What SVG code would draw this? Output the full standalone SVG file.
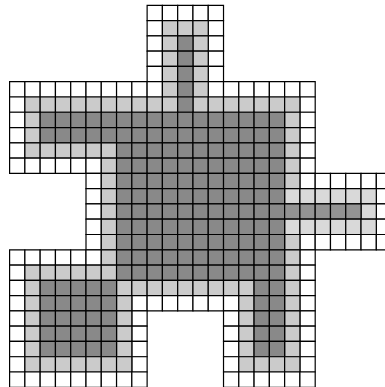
<svg xmlns="http://www.w3.org/2000/svg" width="385" height="387" viewBox="0 0 385 387">
<style>
.bg{fill:#fff}
.g rect{width:1px;height:1px;stroke:#000;stroke-width:1.2;vector-effect:non-scaling-stroke}
.w{fill:#fff}.l{fill:#cbcbcb}.d{fill:#898989}.l2{fill:#d9d9d9}.d2{fill:#939393}
</style>
<rect class="bg" x="0" y="0" width="385" height="387"/>
<g class="g" transform="translate(9.6 5.3) scale(15.28)">
<g id="r0" transform="translate(0 0)"><g class="w"><rect x="9"/><rect x="10"/><rect x="11"/><rect x="12"/><rect x="13"/></g></g>
<g id="r1" transform="translate(0 1)"><g class="w"><rect x="9"/><rect x="13"/></g><g class="l"><rect x="10"/><rect x="11"/><rect x="12"/></g></g>
<g id="r2" transform="translate(0 2)"><g class="w"><rect x="9"/><rect x="13"/></g><g class="l"><rect x="10"/><rect x="12"/></g><g class="d"><rect x="11"/></g></g>
<g id="r3" transform="translate(0 3)"><g class="w"><rect x="9"/><rect x="13"/></g><g class="l"><rect x="10"/><rect x="12"/></g><g class="d"><rect x="11"/></g></g>
<g id="r4" transform="translate(0 4)"><g class="w"><rect x="9"/><rect x="13"/></g><g class="l"><rect x="10"/><rect x="12"/></g><g class="d"><rect x="11"/></g></g>
<g id="r5" transform="translate(0 5)"><g class="w"><rect x="0"/><rect x="1"/><rect x="2"/><rect x="3"/><rect x="4"/><rect x="5"/><rect x="6"/><rect x="7"/><rect x="8"/><rect x="9"/><rect x="13"/><rect x="14"/><rect x="15"/><rect x="16"/><rect x="17"/><rect x="18"/><rect x="19"/></g><g class="l"><rect x="10"/><rect x="12"/></g><g class="d"><rect x="11"/></g></g>
<g id="r6" transform="translate(0 6)"><g class="w"><rect x="0"/><rect x="19"/></g><g class="l"><rect x="1"/><rect x="2"/><rect x="3"/><rect x="4"/><rect x="5"/><rect x="6"/><rect x="7"/><rect x="8"/><rect x="9"/><rect x="10"/><rect x="12"/><rect x="13"/><rect x="14"/><rect x="15"/><rect x="16"/><rect x="17"/><rect x="18"/></g><g class="d"><rect x="11"/></g></g>
<g id="r7" transform="translate(0 7)"><g class="w"><rect x="0"/><rect x="19"/></g><g class="l"><rect x="1"/><rect x="18"/></g><g class="d"><rect x="2"/><rect x="3"/><rect x="4"/><rect x="5"/><rect x="6"/><rect x="7"/><rect x="8"/><rect x="9"/><rect x="10"/><rect x="11"/><rect x="12"/><rect x="13"/><rect x="14"/><rect x="15"/><rect x="16"/><rect x="17"/></g></g>
<g id="r8" transform="translate(0 8)"><g class="w"><rect x="0"/><rect x="19"/></g><g class="l"><rect x="1"/><rect x="18"/></g><g class="d"><rect x="2"/><rect x="3"/><rect x="4"/><rect x="5"/><rect x="6"/><rect x="7"/><rect x="8"/><rect x="9"/><rect x="10"/><rect x="11"/><rect x="12"/><rect x="13"/><rect x="14"/><rect x="15"/><rect x="16"/><rect x="17"/></g></g>
<g id="r9" transform="translate(0 9)"><g class="w"><rect x="0"/><rect x="19"/></g><g class="l"><rect x="1"/><rect x="2"/><rect x="3"/><rect x="4"/><rect x="5"/><rect x="6"/><rect x="18"/></g><g class="d"><rect x="7"/><rect x="8"/><rect x="9"/><rect x="10"/><rect x="11"/><rect x="12"/><rect x="13"/><rect x="14"/><rect x="15"/><rect x="16"/><rect x="17"/></g></g>
<g id="r10" transform="translate(0 10)"><g class="w"><rect x="0"/><rect x="1"/><rect x="2"/><rect x="3"/><rect x="4"/><rect x="5"/><rect x="19"/></g><g class="l"><rect x="6"/><rect x="18"/></g><g class="d"><rect x="7"/><rect x="8"/><rect x="9"/><rect x="10"/><rect x="11"/><rect x="12"/><rect x="13"/><rect x="14"/><rect x="15"/><rect x="16"/><rect x="17"/></g></g>
<g id="r11" transform="translate(0 11)"><g class="w"><rect x="5"/><rect x="19"/><rect x="20"/><rect x="21"/><rect x="22"/><rect x="23"/><rect x="24"/></g><g class="l"><rect x="6"/><rect x="18"/></g><g class="d"><rect x="7"/><rect x="8"/><rect x="9"/><rect x="10"/><rect x="11"/><rect x="12"/><rect x="13"/><rect x="14"/><rect x="15"/><rect x="16"/><rect x="17"/></g></g>
<g id="r12" transform="translate(0 12)"><g class="w"><rect x="5"/><rect x="24"/></g><g class="l"><rect x="6"/></g><g class="l2"><rect x="18"/><rect x="19"/><rect x="20"/><rect x="21"/><rect x="22"/><rect x="23"/></g><g class="d"><rect x="7"/><rect x="8"/><rect x="9"/><rect x="10"/><rect x="11"/><rect x="12"/><rect x="13"/><rect x="14"/><rect x="15"/><rect x="16"/><rect x="17"/></g></g>
<g id="r13" transform="translate(0 13)"><g class="w"><rect x="5"/><rect x="24"/></g><g class="l"><rect x="6"/></g><g class="l2"><rect x="23"/></g><g class="d"><rect x="7"/><rect x="8"/><rect x="9"/><rect x="10"/><rect x="11"/><rect x="12"/><rect x="13"/><rect x="14"/><rect x="15"/><rect x="16"/><rect x="17"/></g><g class="d2"><rect x="18"/><rect x="19"/><rect x="20"/><rect x="21"/><rect x="22"/></g></g>
<g id="r14" transform="translate(0 14)"><g class="w"><rect x="5"/><rect x="24"/></g><g class="l"><rect x="6"/></g><g class="l2"><rect x="18"/><rect x="19"/><rect x="20"/><rect x="21"/><rect x="22"/><rect x="23"/></g><g class="d"><rect x="7"/><rect x="8"/><rect x="9"/><rect x="10"/><rect x="11"/><rect x="12"/><rect x="13"/><rect x="14"/><rect x="15"/><rect x="16"/><rect x="17"/></g></g>
<g id="r15" transform="translate(0 15)"><g class="w"><rect x="5"/><rect x="19"/><rect x="20"/><rect x="21"/><rect x="22"/><rect x="23"/><rect x="24"/></g><g class="l"><rect x="6"/><rect x="18"/></g><g class="d"><rect x="7"/><rect x="8"/><rect x="9"/><rect x="10"/><rect x="11"/><rect x="12"/><rect x="13"/><rect x="14"/><rect x="15"/><rect x="16"/><rect x="17"/></g></g>
<g id="r16" transform="translate(0 16)"><g class="w"><rect x="0"/><rect x="1"/><rect x="2"/><rect x="3"/><rect x="4"/><rect x="5"/><rect x="19"/></g><g class="l"><rect x="6"/><rect x="18"/></g><g class="d"><rect x="7"/><rect x="8"/><rect x="9"/><rect x="10"/><rect x="11"/><rect x="12"/><rect x="13"/><rect x="14"/><rect x="15"/><rect x="16"/><rect x="17"/></g></g>
<g id="r17" transform="translate(0 17)"><g class="w"><rect x="0"/><rect x="19"/></g><g class="l"><rect x="1"/><rect x="2"/><rect x="3"/><rect x="4"/><rect x="5"/><rect x="6"/><rect x="18"/></g><g class="d"><rect x="7"/><rect x="8"/><rect x="9"/><rect x="10"/><rect x="11"/><rect x="12"/><rect x="13"/><rect x="14"/><rect x="15"/><rect x="16"/><rect x="17"/></g></g>
<g id="r18" transform="translate(0 18)"><g class="w"><rect x="0"/><rect x="19"/></g><g class="l"><rect x="1"/><rect x="7"/><rect x="8"/><rect x="9"/><rect x="10"/><rect x="11"/><rect x="12"/><rect x="13"/><rect x="14"/><rect x="15"/><rect x="18"/></g><g class="d"><rect x="2"/><rect x="3"/><rect x="4"/><rect x="5"/><rect x="6"/><rect x="16"/><rect x="17"/></g></g>
<g id="r19" transform="translate(0 19)"><g class="w"><rect x="0"/><rect x="8"/><rect x="9"/><rect x="10"/><rect x="11"/><rect x="12"/><rect x="13"/><rect x="14"/><rect x="19"/></g><g class="l"><rect x="1"/><rect x="7"/><rect x="15"/><rect x="18"/></g><g class="d"><rect x="2"/><rect x="3"/><rect x="4"/><rect x="5"/><rect x="6"/><rect x="16"/><rect x="17"/></g></g>
<g id="r20" transform="translate(0 20)"><g class="w"><rect x="0"/><rect x="8"/><rect x="14"/><rect x="19"/></g><g class="l"><rect x="1"/><rect x="7"/><rect x="15"/><rect x="18"/></g><g class="d"><rect x="2"/><rect x="3"/><rect x="4"/><rect x="5"/><rect x="6"/><rect x="16"/><rect x="17"/></g></g>
<g id="r21" transform="translate(0 21)"><g class="w"><rect x="0"/><rect x="8"/><rect x="14"/><rect x="19"/></g><g class="l"><rect x="1"/><rect x="7"/><rect x="15"/><rect x="18"/></g><g class="d"><rect x="2"/><rect x="3"/><rect x="4"/><rect x="5"/><rect x="6"/><rect x="16"/><rect x="17"/></g></g>
<g id="r22" transform="translate(0 22)"><g class="w"><rect x="0"/><rect x="8"/><rect x="14"/><rect x="19"/></g><g class="l"><rect x="1"/><rect x="7"/><rect x="15"/><rect x="18"/></g><g class="d"><rect x="2"/><rect x="3"/><rect x="4"/><rect x="5"/><rect x="6"/><rect x="16"/><rect x="17"/></g></g>
<g id="r23" transform="translate(0 23)"><g class="w"><rect x="0"/><rect x="8"/><rect x="14"/><rect x="19"/></g><g class="l"><rect x="1"/><rect x="2"/><rect x="3"/><rect x="4"/><rect x="5"/><rect x="6"/><rect x="7"/><rect x="15"/><rect x="16"/><rect x="17"/><rect x="18"/></g></g>
<g id="r24" transform="translate(0 24)"><g class="w"><rect x="0"/><rect x="1"/><rect x="2"/><rect x="3"/><rect x="4"/><rect x="5"/><rect x="6"/><rect x="7"/><rect x="8"/><rect x="14"/><rect x="15"/><rect x="16"/><rect x="17"/><rect x="18"/><rect x="19"/></g></g>
</g>
</svg>
